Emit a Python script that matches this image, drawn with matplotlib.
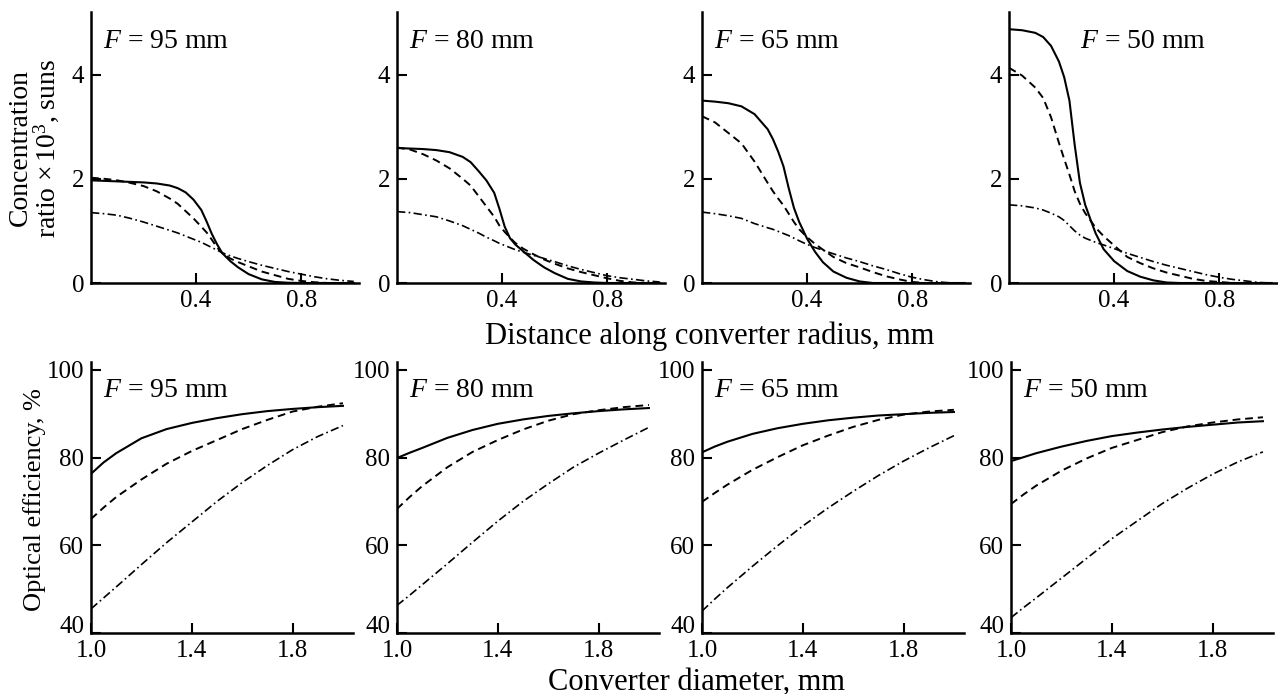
import matplotlib
matplotlib.use("Agg")
import matplotlib.pyplot as plt

plt.rcParams["font.family"] = ["Liberation Serif", "DejaVu Serif"]
plt.rcParams["mathtext.fontset"] = "custom"
plt.rcParams["mathtext.rm"] = "Liberation Serif"
plt.rcParams["mathtext.it"] = "Liberation Serif:italic"

focal = ["95", "80", "65", "50"]

# top row: concentration ratio (x10^3 suns) vs distance along radius (mm)
r1 = [0, .05, .1, .15, .2, .25, .3, .33, .36, .39, .42, .44, .46, .48, .5, .53, .56, .6, .65, .7, .75, .8, .85, .9, .95, 1.0]
c1_solid = [1.97, 1.96, 1.95, 1.94, 1.93, 1.91, 1.87, 1.82, 1.74, 1.60, 1.40, 1.18, 0.94, 0.74, 0.57, 0.42, 0.30, 0.17, 0.07, 0.02, 0.005, 0, 0, 0, 0, 0]
c1_dash = [2.02, 2.0, 1.97, 1.92, 1.86, 1.76, 1.62, 1.52, 1.38, 1.24, 1.08, 0.97, 0.83, 0.68, 0.57, 0.47, 0.40, 0.32, 0.22, 0.15, 0.08, 0.04, 0.015, 0, 0, 0]
c1_dd = [1.35, 1.33, 1.30, 1.24, 1.17, 1.09, 1.01, 0.96, 0.90, 0.84, 0.78, 0.73, 0.68, 0.63, 0.58, 0.52, 0.47, 0.41, 0.34, 0.28, 0.22, 0.17, 0.12, 0.08, 0.05, 0.03]

r2 = [0, .05, .1, .15, .2, .25, .28, .31, .34, .37, .39, .41, .43, .45, .48, .52, .56, .6, .65, .7, .75, .8, .85, .9, .95, 1.0]
c2_solid = [2.59, 2.58, 2.57, 2.55, 2.51, 2.42, 2.32, 2.15, 1.97, 1.73, 1.42, 1.08, 0.86, 0.74, 0.61, 0.44, 0.30, 0.19, 0.08, 0.03, 0.01, 0, 0, 0, 0, 0]
c2_dash = [2.60, 2.56, 2.47, 2.35, 2.20, 2.0, 1.87, 1.67, 1.47, 1.27, 1.10, 0.98, 0.87, 0.77, 0.66, 0.55, 0.45, 0.37, 0.28, 0.21, 0.15, 0.09, 0.04, 0.01, 0, 0]
c2_dd = [1.37, 1.35, 1.31, 1.27, 1.19, 1.10, 1.03, 0.96, 0.88, 0.81, 0.76, 0.72, 0.68, 0.64, 0.59, 0.53, 0.47, 0.41, 0.33, 0.26, 0.20, 0.14, 0.10, 0.07, 0.04, 0.02]

r3 = [0, .05, .1, .15, .2, .25, .27, .29, .31, .33, .35, .37, .4, .43, .46, .5, .55, .6, .65, .7, .75, .8, .85, .9, .95, 1.0]
c3_solid = [3.50, 3.48, 3.45, 3.39, 3.24, 2.95, 2.76, 2.52, 2.24, 1.82, 1.44, 1.17, 0.85, 0.60, 0.40, 0.22, 0.10, 0.03, 0, 0, 0, 0, 0, 0, 0, 0]
c3_dash = [3.20, 3.08, 2.88, 2.68, 2.33, 1.92, 1.76, 1.62, 1.49, 1.33, 1.17, 1.03, 0.88, 0.75, 0.64, 0.50, 0.38, 0.30, 0.21, 0.13, 0.07, 0.02, 0, 0, 0, 0]
c3_dd = [1.36, 1.33, 1.29, 1.24, 1.14, 1.06, 1.03, 0.99, 0.95, 0.91, 0.86, 0.81, 0.74, 0.68, 0.63, 0.56, 0.48, 0.41, 0.33, 0.26, 0.18, 0.11, 0.06, 0.02, 0, 0]

r4 = [0, .05, .1, .13, .16, .19, .21, .23, .25, .27, .29, .31, .33, .36, .4, .45, .5, .55, .6, .65, .7, .75, .8, .85, .9, .95, 1.0]
c4_solid = [4.87, 4.85, 4.80, 4.72, 4.55, 4.25, 3.95, 3.50, 2.65, 1.92, 1.50, 1.22, 0.95, 0.65, 0.42, 0.23, 0.12, 0.05, 0.01, 0, 0, 0, 0, 0, 0, 0, 0]
c4_dash = [4.13, 3.98, 3.75, 3.55, 3.18, 2.69, 2.38, 2.08, 1.76, 1.52, 1.34, 1.20, 1.06, 0.90, 0.72, 0.50, 0.38, 0.28, 0.20, 0.14, 0.08, 0.04, 0.02, 0, 0, 0, 0]
c4_dd = [1.50, 1.48, 1.44, 1.40, 1.34, 1.27, 1.20, 1.10, 1.00, 0.92, 0.86, 0.82, 0.78, 0.73, 0.66, 0.57, 0.49, 0.41, 0.34, 0.28, 0.22, 0.16, 0.11, 0.07, 0.04, 0.01, 0]

# bottom row: optical efficiency (%) vs converter diameter (mm)
diam = [1.0, 1.05, 1.1, 1.2, 1.3, 1.4, 1.5, 1.6, 1.7, 1.8, 1.9, 2.0]
e1_solid = [76.3, 78.9, 81.0, 84.4, 86.5, 87.9, 89.0, 89.9, 90.6, 91.1, 91.5, 91.8]
e1_dash = [66.0, 68.6, 71.0, 75.0, 78.6, 81.5, 84.0, 86.5, 88.6, 90.5, 91.6, 92.4]
e1_dd = [45.5, 48.0, 50.5, 55.6, 60.6, 65.3, 70.0, 74.3, 78.2, 81.8, 84.8, 87.3]
e2_solid = [79.9, 81.1, 82.2, 84.5, 86.3, 87.7, 88.7, 89.5, 90.1, 90.6, 91.0, 91.3]
e2_dash = [68.3, 71.0, 73.5, 77.8, 81.3, 84.0, 86.4, 88.4, 89.9, 90.8, 91.5, 92.0]
e2_dd = [46.3, 48.6, 51.0, 55.8, 60.7, 65.5, 70.0, 74.0, 77.8, 81.0, 84.0, 86.9]
e3_solid = [81.2, 82.5, 83.6, 85.4, 86.7, 87.7, 88.5, 89.1, 89.6, 89.9, 90.2, 90.4]
e3_dash = [69.9, 71.9, 73.8, 77.2, 80.1, 82.8, 85.0, 87.0, 88.6, 89.8, 90.5, 90.9]
e3_dd = [45.0, 47.7, 50.3, 55.2, 59.9, 64.4, 68.5, 72.3, 75.9, 79.2, 82.2, 85.0]
e4_solid = [79.2, 80.1, 81.0, 82.5, 83.8, 84.9, 85.7, 86.4, 87.0, 87.5, 88.0, 88.3]
e4_dash = [69.4, 71.6, 73.6, 77.0, 79.8, 82.2, 84.0, 85.8, 87.1, 88.0, 88.7, 89.2]
e4_dd = [43.5, 45.8, 48.0, 52.5, 57.0, 61.5, 65.5, 69.5, 73.0, 76.2, 79.0, 81.3]

top_x = [r1, r2, r3, r4]
top_y = [(c1_solid, c1_dash, c1_dd), (c2_solid, c2_dash, c2_dd),
         (c3_solid, c3_dash, c3_dd), (c4_solid, c4_dash, c4_dd)]
bot_y = [(e1_solid, e1_dash, e1_dd), (e2_solid, e2_dash, e2_dd),
         (e3_solid, e3_dash, e3_dd), (e4_solid, e4_dash, e4_dd)]

W, H = 1278, 694
fig = plt.figure(figsize=(W / 100, H / 100), dpi=100)

top_left = [91, 397, 702, 1009]
bot_left = [91, 397, 702, 1011]
label_x_top = [0.045, 0.045, 0.045, 0.265]

styles = [dict(ls="-", lw=1.5),
          dict(ls=(0, (4, 2.5)), lw=1.4),
          dict(ls=(0, (5, 2, 1, 2)), lw=1.2)]


def style_axes(ax):
    for s in ["top", "right"]:
        ax.spines[s].set_visible(False)
    for s in ["left", "bottom"]:
        ax.spines[s].set_linewidth(1.8)
    ax.tick_params(direction="in", length=7, width=1.5, labelsize=18, pad=5)


for i in range(4):
    ax = fig.add_axes([top_left[i] / W, (H - 283) / H, 268 / W, 271 / H])
    for y, st in zip(top_y[i], styles):
        ax.plot(top_x[i], y, color="black", **st)
    ax.set_xlim(0, 1.02)
    ax.set_ylim(0, 5.2)
    ax.set_xticks([0.4, 0.8])
    ax.set_xticklabels(["0.4", "0.8"])
    ax.set_yticks([0, 2, 4])
    style_axes(ax)
    ax.text(label_x_top[i], 0.867, rf"$F$ = {focal[i]} mm", transform=ax.transAxes,
            fontsize=20, va="baseline", ha="left")

    ax = fig.add_axes([bot_left[i] / W, (H - 633) / H, 262 / W, 271 / H])
    for y, st in zip(bot_y[i], styles):
        ax.plot(diam, y, color="black", **st)
    ax.set_xlim(1.0, 2.04)
    ax.set_ylim(40, 101.8)
    ax.set_xticks([1.0, 1.4, 1.8])
    ax.set_xticklabels(["1.0", "1.4", "1.8"])
    ax.set_yticks([40, 60, 80, 100])
    style_axes(ax)
    # lowest y label sits on its tick, clear of the "1.0" below it
    ax.yaxis.get_major_ticks()[0].label1.set_verticalalignment("baseline")
    ax.text(0.045, 0.872, rf"$F$ = {focal[i]} mm", transform=ax.transAxes,
            fontsize=20, va="baseline", ha="left")

fig.text(20 / W, 1 - 148 / H, "Concentration", rotation=90, fontsize=20,
         ha="center", va="center")
fig.text(46 / W, 1 - 148 / H, r"ratio $\times\,10^3$, suns", rotation=90, fontsize=20,
         ha="center", va="center")
fig.text(35 / W, 1 - 500 / H, "Optical efficiency, %", rotation=90, fontsize=19,
         ha="center", va="center")
fig.text(710 / W, 1 - 336 / H, "Distance along converter radius, mm", fontsize=22,
         ha="center", va="center")
fig.text(697 / W, 1 - 682 / H, "Converter diameter, mm", fontsize=22,
         ha="center", va="center")

fig.savefig("out.png", dpi=100)
